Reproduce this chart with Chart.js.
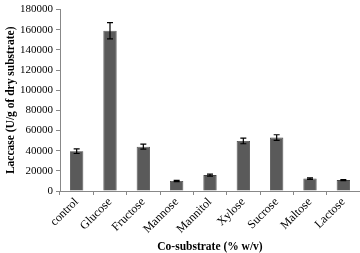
<!DOCTYPE html>
<html>
<head>
<meta charset="utf-8">
<script src="https://cdn.jsdelivr.net/npm/chart.js@4"></script>
<style>
  html, body { margin: 0; padding: 0; background: #fff; }
  #wrap { width: 360px; height: 253px; }
</style>
</head>
<body>
<div id="wrap"><canvas id="myChart"></canvas></div>
<script>
var labels = ['control', 'Glucose', 'Fructose', 'Mannose', 'Mannitol', 'Xylose', 'Sucrose', 'Maltose', 'Lactose'];
var laccase = [39500, 159000, 44000, 10000, 15800, 49700, 53000, 12300, 10800];
var errors = [2300, 8000, 2500, 600, 1000, 2800, 2800, 700, 600];
var yTicks = [0, 20000, 40000, 60000, 80000, 100000, 120000, 140000, 160000, 180000];

// dibuja las barras de error usando las escalas del gráfico
var errorBars = {
    id: 'errorBars',
    afterDatasetsDraw: function (chart) {
        var ctx = chart.ctx;
        var meta = chart.getDatasetMeta(0);
        var y = chart.scales.y;
        ctx.save();
        ctx.strokeStyle = '#000';
        ctx.lineWidth = 1.2;
        meta.data.forEach(function (bar, i) {
            var v = laccase[i], e = errors[i];
            var top = y.getPixelForValue(v + e);
            var bot = y.getPixelForValue(v - e);
            var x = bar.x;
            ctx.beginPath();
            ctx.moveTo(x, top); ctx.lineTo(x, bot);
            ctx.moveTo(x - 3, top); ctx.lineTo(x + 3, top);
            ctx.moveTo(x - 3, bot); ctx.lineTo(x + 3, bot);
            ctx.stroke();
        });
        ctx.restore();
    }
};

var ctx = document.getElementById('myChart').getContext('2d');
window.myChart = new Chart(ctx, {
    type: 'bar',
    data: {
        labels: labels,
        datasets: [{
            data: laccase,
            backgroundColor: '#5a5a5a',
            borderColor: '#444',
            borderWidth: 0.8,
            categoryPercentage: 1,
            barPercentage: 0.4
        }]
    },
    options: {
        responsive: true,
        maintainAspectRatio: false,
        animation: false,
        layout: { padding: { top: 1, right: 0, left: 0, bottom: 0 } },
        plugins: { legend: { display: false }, tooltip: { enabled: false } },
        scales: {
            x: {
                grid: { display: true, drawOnChartArea: false, color: '#888', tickLength: 4, offset: true },
                border: { color: '#888' },
                ticks: {
                    color: '#000', maxRotation: 45, minRotation: 45, padding: 0,
                    font: { family: 'Liberation Serif', size: 12 }
                },
                title: {
                    display: true, text: 'Co-substrate (% w/v)', color: '#000',
                    font: { family: 'Liberation Serif', size: 11.5, weight: 'bold' }, padding: { top: 0, bottom: -1 }
                },
                afterFit: function (scale) { scale.height = 62; }
            },
            y: {
                min: 0, max: 180000,
                afterBuildTicks: function (scale) {
                    scale.ticks = yTicks.map(function (v) { return { value: v }; });
                },
                grid: { display: true, drawOnChartArea: false, color: '#888', tickLength: 4 },
                border: { color: '#888' },
                ticks: {
                    color: '#000', padding: 3,
                    font: { family: 'Liberation Serif', size: 11 },
                    callback: function (v) { return v; }
                },
                title: {
                    display: true, text: 'Laccase (U/g of dry substrate)', color: '#000',
                    font: { family: 'Liberation Serif', size: 11.5, weight: 'bold' }, padding: { bottom: 1 }
                },
                afterFit: function (scale) { scale.width = 60; }
            }
        }
    },
    plugins: [errorBars]
});
</script>
</body>
</html>
